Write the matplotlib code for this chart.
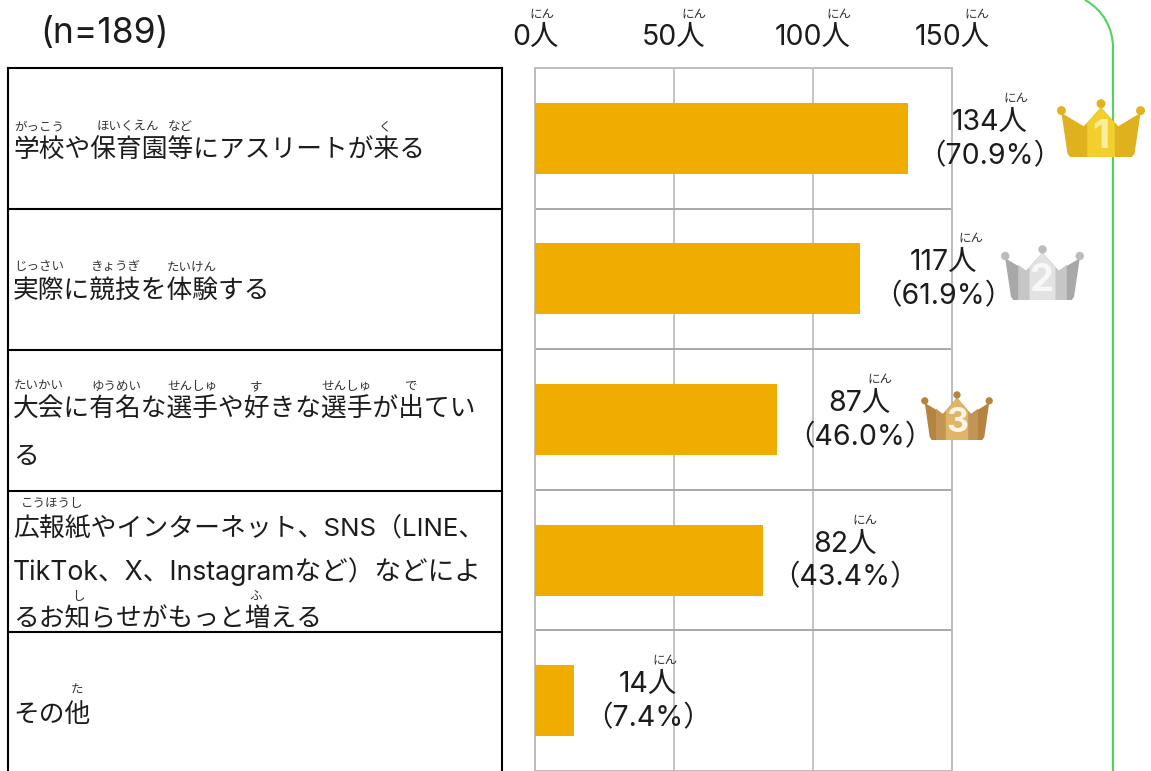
import numpy as np
import matplotlib
matplotlib.use("Agg")
import matplotlib.pyplot as plt
from matplotlib.patches import Polygon, Circle, PathPatch
from matplotlib.path import Path

plt.rcParams['font.family'] = ['Inter', 'Noto Sans CJK JP', 'DejaVu Sans']

W, H = 1151, 771
TEXT = "#1c1c1c"

counts = [134, 117, 87, 82, 14]
percents = ["70.9", "61.9", "46.0", "43.4", "7.4"]
tick_values = [0, 50, 100, 150]
tick_labels = ["0人", "50人", "100人", "150人"]

# category text, one entry per printed line
label_lines = [
    ["学校や保育園等にアスリートが来る"],
    ["実際に競技を体験する"],
    ["大会に有名な選手や好きな選手が出てい", "る"],
    ["広報紙やインターネット、SNS（LINE、", "TikTok、X、Instagramなど）などによ", "るお知らせがもっと増える"],
    ["その他"],
]
label_y = [[158], [298], [417, 464], [535, 580, 626], [722]]
label_sizes = [[18.5], [18.5], [18.5, 18.5], [18.6, 19.2, 18.5], [18.5]]

# ruby text: (reading, x center, y center)
ruby = [
    ("がっこう", 39, 127), ("ほいくえん", 128, 127), ("など", 180, 127), ("く", 385, 127),
    ("じっさい", 39, 267), ("きょうぎ", 116, 267), ("たいけん", 192, 267),
    ("たいかい", 39, 387), ("ゆうめい", 116, 387), ("せんしゅ", 192, 387),
    ("す", 256, 387), ("せんしゅ", 346, 387), ("で", 410, 387),
    ("こうほうし", 52, 504), ("し", 78, 597), ("ふ", 256, 597),
    ("た", 77, 691),
]

row_lines = [68, 209, 350, 491, 632]
label_dx = [82, 83, 83, 82, 74]
nin_dx = [26, 28, 20, 20, 17]
tick_nin_dx = [7, 20, 26, 25]

fig = plt.figure(figsize=(W / 100, H / 100), dpi=100)
fig.patch.set_facecolor("white")

# bar chart, same pixel box as the original plot area
ax = fig.add_axes([535 / W, 0, (952 - 535) / W, (H - 68) / H])
y_pos = np.arange(len(counts)) + 0.5
ax.barh(y_pos, counts, height=0.505, color="#f0ad00", zorder=3)
ax.set_xlim(0, 150)
ax.set_ylim(5, 0)
ax.set_yticks([])
ax.set_yticks(np.arange(1, 5), minor=True)
ax.tick_params(axis="y", which="both", length=0)
ax.set_xticks(tick_values)
ax.set_xticklabels(tick_labels, fontsize=20.5, color=TEXT)
ax.xaxis.tick_top()
ax.tick_params(axis="x", length=0, pad=12)
ax.grid(axis="x", color="#c4c4c4", lw=1.4, zorder=1)
ax.grid(axis="y", which="minor", color="#a8a8a8", lw=1.4, zorder=1)
for s in ax.spines.values():
    s.set_color("#bdbdbd")
    s.set_linewidth(1.4)

# value labels follow the bar ends
for i, (c, p) in enumerate(zip(counts, percents)):
    ax.annotate(f"{c}人", (c, y_pos[i]), xytext=(label_dx[i], 16), textcoords="offset pixels",
                ha="center", va="center", fontsize=20.5, color=TEXT, zorder=6)
    ax.annotate(f"（{p}%）", (c, y_pos[i]), xytext=(label_dx[i], -18), textcoords="offset pixels",
                ha="center", va="center", fontsize=20.5, color=TEXT, zorder=6)
    ax.annotate("にん", (c, y_pos[i]), xytext=(label_dx[i] + nin_dx[i], 40), textcoords="offset pixels",
                ha="center", va="center", fontsize=9, color="#333333", zorder=6)

for v, dx in zip(tick_values, tick_nin_dx):
    ax.annotate("にん", (v, 0), xytext=(dx, 53), textcoords="offset pixels", annotation_clip=False,
                ha="center", va="center", fontsize=9, color="#333333")

# overlay in pixel coordinates for table, ruby, crowns
ov = fig.add_axes([0, 0, 1, 1], facecolor="none")
ov.set_xlim(0, W)
ov.set_ylim(H, 0)
ov.axis("off")

# green frame behind
verts = [(1085, 0), (1103, 10), (1113, 28), (1113, 48), (1113, H)]
codes = [Path.MOVETO, Path.CURVE4, Path.CURVE4, Path.CURVE4, Path.LINETO]
ov.add_patch(PathPatch(Path(verts, codes), fc="none", ec="#4fd45f", lw=1.5))

# table
for y in row_lines:
    ov.plot([8, 502], [y, y], color="black", lw=1.5, solid_capstyle="projecting")
ov.plot([8, 8], [68, H], color="black", lw=1.5)
ov.plot([502, 502], [68, H], color="black", lw=1.5)

for lines, ys, sizes in zip(label_lines, label_y, label_sizes):
    for t, y, fs in zip(lines, ys, sizes):
        ov.text(13, y, t, ha="left", va="baseline", fontsize=fs, color=TEXT)
for t, x, y in ruby:
    ov.text(x, y, t, ha="center", va="center", fontsize=9, color="#333333")

ov.text(40, 33, "(n=189)", ha="left", va="center", fontsize=25.5, color=TEXT)


def crown(x0, y0, w, h, side, mid, band, ball, num_col, num):
    # shape in unit box, y down
    px = lambda u, v: (x0 + u * w, y0 + v * h)
    outer = [(0.04, 0.24), (0.30, 0.47), (0.50, 0.14), (0.70, 0.47), (0.96, 0.24),
             (0.89, 0.94), (0.86, 1.0), (0.14, 1.0), (0.11, 0.94)]
    ov.add_patch(Polygon([px(*p) for p in outer], fc=side, ec="none", zorder=5))
    if band:
        ov.add_patch(Polygon([px(0.2, 0.36), px(0.3, 0.47), px(0.5, 0.14), px(0.7, 0.47), px(0.8, 0.36),
                              px(0.8, 1.0), px(0.2, 1.0)], fc=band, ec="none", zorder=5))
    centre = [(0.34, 0.41), (0.50, 0.14), (0.66, 0.41), (0.66, 1.0), (0.34, 1.0)]
    ov.add_patch(Polygon([px(*p) for p in centre], fc=mid, ec="none", zorder=5))
    for u, v in [(0.04, 0.2), (0.5, 0.08), (0.96, 0.2)]:
        ov.add_patch(Circle(px(u, v), w * 0.052, fc=ball, ec="none", zorder=6))
    ov.text(*px(0.5, 0.66), num, ha="center", va="center", fontsize=h * 0.5, fontweight="bold",
            color=num_col, zorder=7)


crown(1058, 99, 86, 58, "#dfb11e", "#f3cf2d", None, "#e2b21f", "#fbeea0", "1")
crown(1002, 245, 81, 55, "#a8a8a8", "#e2e2e2", "#c6c6c6", "#bcbcbc", "#f7f7f7", "2")
crown(922, 391, 70, 49, "#b5853f", "#e0b56a", "#c29556", "#b5853f", "#fff6e6", "3")

fig.savefig("out.png", dpi=100)
